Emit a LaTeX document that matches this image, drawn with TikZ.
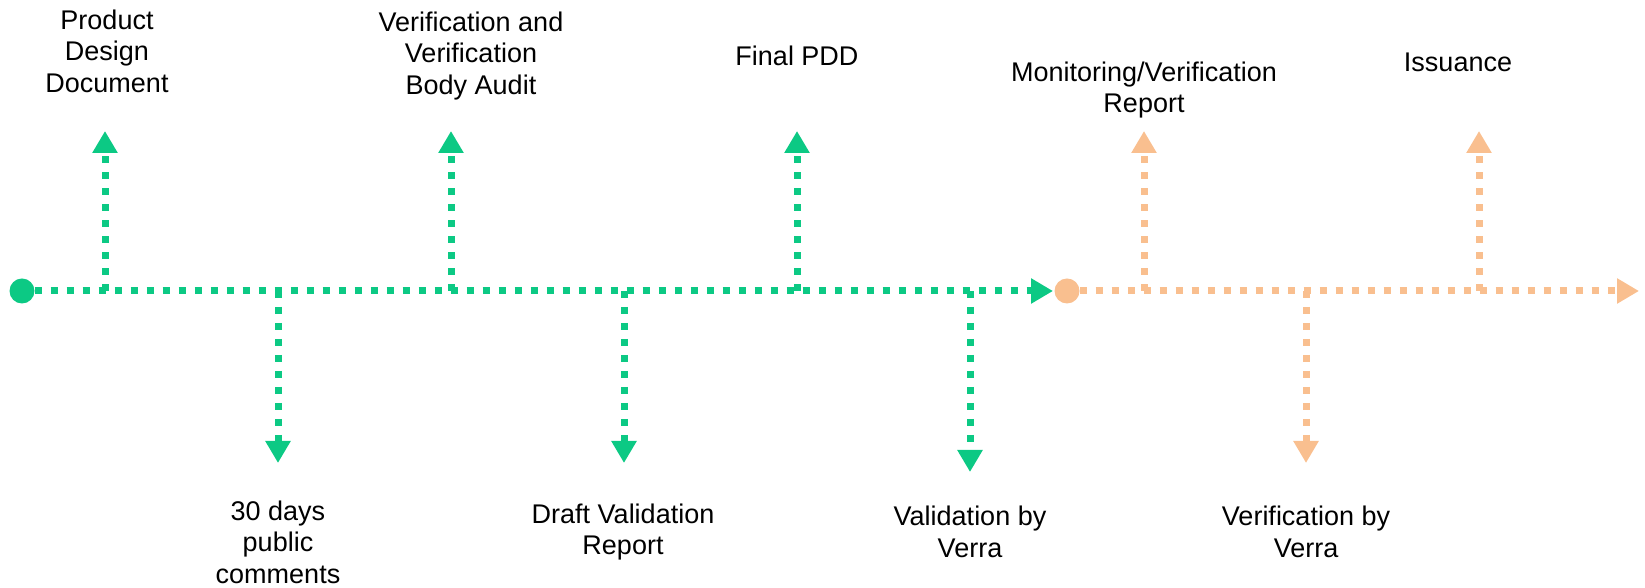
\documentclass[tikz,border=0pt]{standalone}
\usepackage{fontspec}
\setmainfont{Liberation Sans}
\usetikzlibrary{arrows.meta}
\definecolor{vgreen}{RGB}{12,201,132}
\definecolor{vorange}{RGB}{249,191,143}
\tikzset{
  dotline/.style={line width=7pt, dash pattern=on 7pt off 9pt, line cap=butt},
  tip/.style={-{Triangle[length=22pt,width=24pt]}},
  lbl/.style={align=center, inner sep=0pt, font=\fontsize{27}{31.5}\selectfont, text=black},
  startdot/.style={circle, minimum size=25pt, inner sep=0pt},
}
\begin{document}
\begin{tikzpicture}[x=1pt,y=1pt]
\useasboundingbox (0,0) rectangle (1645,588);
% start dots
\node[startdot, fill=vgreen] (g0) at (22,297) {};
\node[startdot, fill=vorange] (o0) at (1067,297) {};
\coordinate (gend) at (1053,297);
\coordinate (oend) at (1639,297);
% tick points on main line
\coordinate (t1) at (105,297);
\coordinate (t2) at (278,297);
\coordinate (t3) at (451,297);
\coordinate (t4) at (624,297);
\coordinate (t5) at (797,297);
\coordinate (t6) at (970,297);
\coordinate (t7) at (1144,297);
\coordinate (t8) at (1306,297);
\coordinate (t9) at (1479,297);
% arrow tips
\coordinate (a1) at (105,457);
\coordinate (a2) at (278,125);
\coordinate (a3) at (451,457);
\coordinate (a4) at (624,125);
\coordinate (a5) at (797,457);
\coordinate (a6) at (970,116);
\coordinate (a7) at (1144,457);
\coordinate (a8) at (1306,125);
\coordinate (a9) at (1479,457);
% labels
\node[lbl] (l1) at (107,537) {Product\\Design\\Document};
\node[lbl] (l3) at (471,532) {Verification and\\Verification\\Body Audit};
\node[lbl] (l5) at (797,532) {Final PDD};
\node[lbl] (l7) at (1144,498) {Monitoring/Verification\\Report};
\node[lbl] (l9) at (1458,526) {Issuance};
\node[lbl] (l2) at (278,46) {30 days\\public\\comments};
\node[lbl] (l4) at (623,56) {Draft Validation\\Report};
\node[lbl] (l6) at (970,56) {Validation by\\Verra};
\node[lbl] (l8) at (1306,56) {Verification by\\Verra};
% vertical connectors
\draw[dotline, tip, vgreen] (t1) -- (a1);
\draw[dotline, tip, vgreen] (t2) -- (a2);
\draw[dotline, tip, vgreen] (t3) -- (a3);
\draw[dotline, tip, vgreen] (t4) -- (a4);
\draw[dotline, tip, vgreen] (t5) -- (a5);
\draw[dotline, tip, vgreen] (t6) -- (a6);
\draw[dotline, tip, vorange] (t7) -- (a7);
\draw[dotline, tip, vorange] (t8) -- (a8);
\draw[dotline, tip, vorange] (t9) -- (a9);
% main lines
\draw[dotline, tip, vgreen] (g0.east) -- (gend);
\draw[dotline, tip, vorange] (o0.east) -- (oend);
\end{tikzpicture}
\end{document}
